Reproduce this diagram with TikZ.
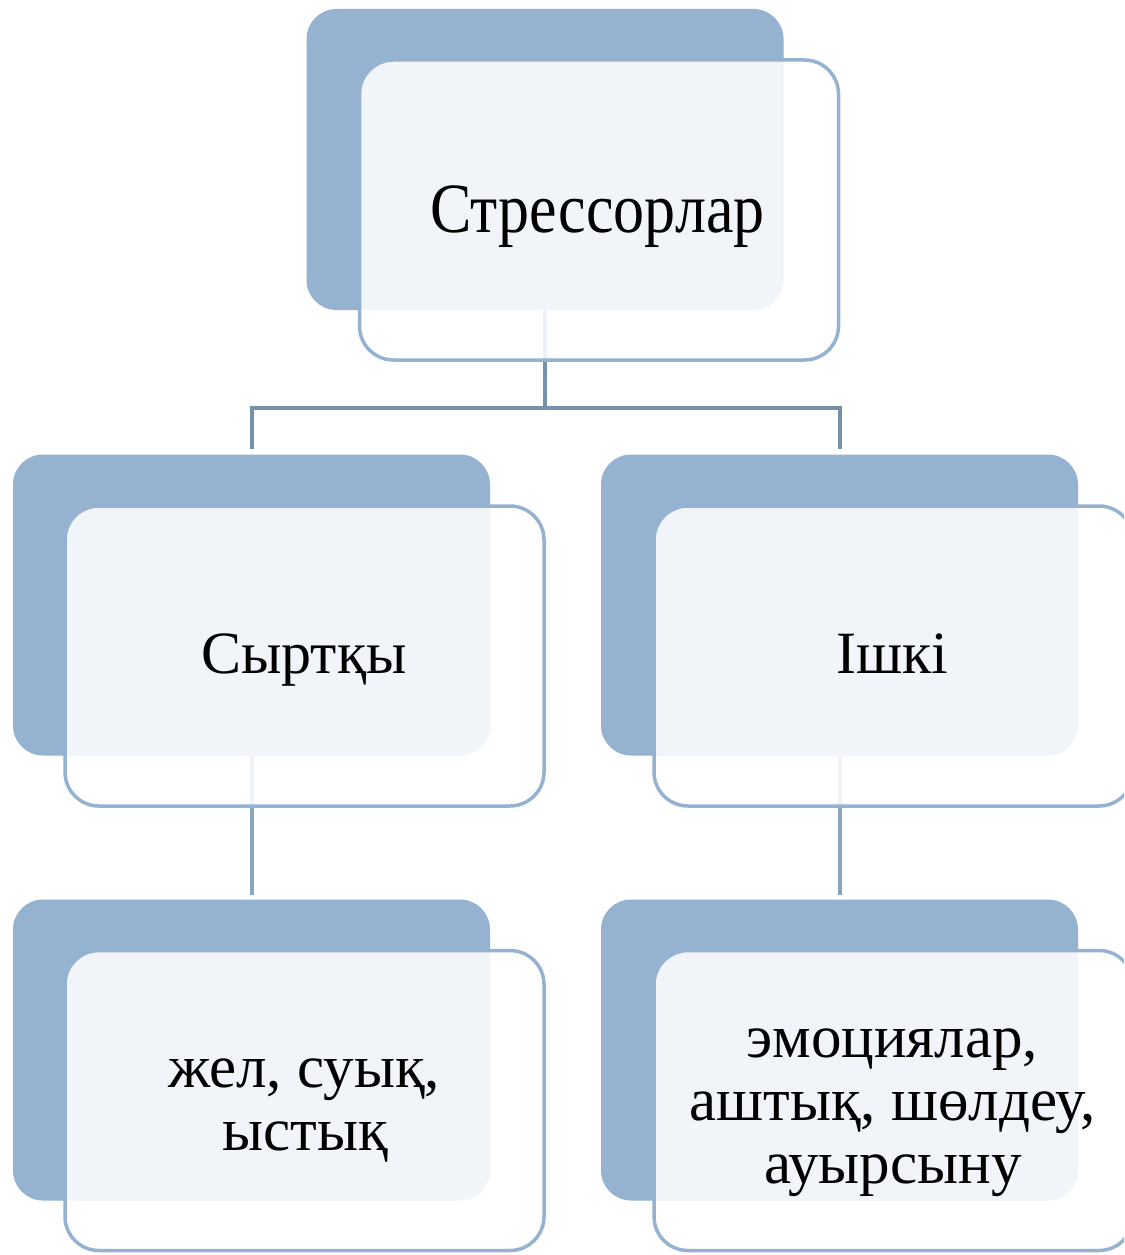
\documentclass[tikz,border=0pt]{standalone}
\usepackage{fontspec}
\setmainfont{Liberation Serif}
\definecolor{backblue}{HTML}{95B3D1}
\definecolor{edgeblue}{HTML}{95B3D1}
\definecolor{conntop}{HTML}{7791AA}
\definecolor{connlow}{HTML}{89A6C0}
\tikzset{
  backbox/.style={rectangle, rounded corners=30pt, fill=backblue, draw=none,
    minimum width=477pt, minimum height=301pt, inner sep=0pt},
  frontbox/.style={rectangle, rounded corners=34pt, draw=edgeblue, line width=3.5pt,
    fill=white, fill opacity=0.87, draw opacity=1,
    minimum width=479pt, minimum height=300pt, inner sep=0pt},
  conna/.style={draw=conntop, line width=4pt},
  connb/.style={draw=connlow, line width=4pt},
  lbl/.style={anchor=base, inner sep=0pt},
  bigtxt/.style={lbl, font=\fontsize{62}{70}\selectfont},
  midtxt/.style={lbl, font=\fontsize{60}{68}\selectfont},
  smalltxt/.style={lbl, font=\fontsize{61}{62}\selectfont},
}
\begin{document}
\begin{tikzpicture}[x=1pt,y=-1pt]
\clip (0,0) rectangle (1124,1255);
\fill[white] (0,0) rectangle (1124,1255);
% back boxes
\node[backbox] (b1) at (545,159.5) {};
\node[backbox] (b2) at (251.5,605) {};
\node[backbox] (b3) at (839.5,605) {};
\node[backbox] (b4) at (251.5,1050) {};
\node[backbox] (b5) at (839.5,1050) {};
% connectors
\coordinate (j) at (545,408);
\draw[conna] (b1.south) -- (j) -| ([yshift=5pt]b2.north);
\draw[conna] (j) -| ([yshift=5pt]b3.north);
\draw[connb] (b2.south) -- ([yshift=4pt]b4.north);
\draw[connb] (b3.south) -- ([yshift=4pt]b5.north);
% front boxes
\node[frontbox] (f1) at (599,210) {};
\node[frontbox] (f2) at (304.5,656) {};
\node[frontbox] (f3) at (893.5,656) {};
\node[frontbox] (f4) at (304.5,1100.5) {};
\node[frontbox] (f5) at (893.5,1100.5) {};
% labels
\node[bigtxt] (t1) at (597.5,232) {\scalebox{1}[1.14]{Стрессорлар}};
\node[midtxt] (t2) at (304,673) {Сыртқы};
\node[midtxt] (t3) at (892.5,673) {Ішкі};
\node[smalltxt] (t4a) at (304,1087) {жел, суық,};
\node[smalltxt] (t4b) at (305,1150) {ыстық};
\node[smalltxt] (t5a) at (892.5,1057) {эмоциялар,};
\node[smalltxt] (t5b) at (892.5,1120) {аштық, шөлдеу,};
\node[smalltxt] (t5c) at (893,1183) {ауырсыну};
\end{tikzpicture}
\end{document}
